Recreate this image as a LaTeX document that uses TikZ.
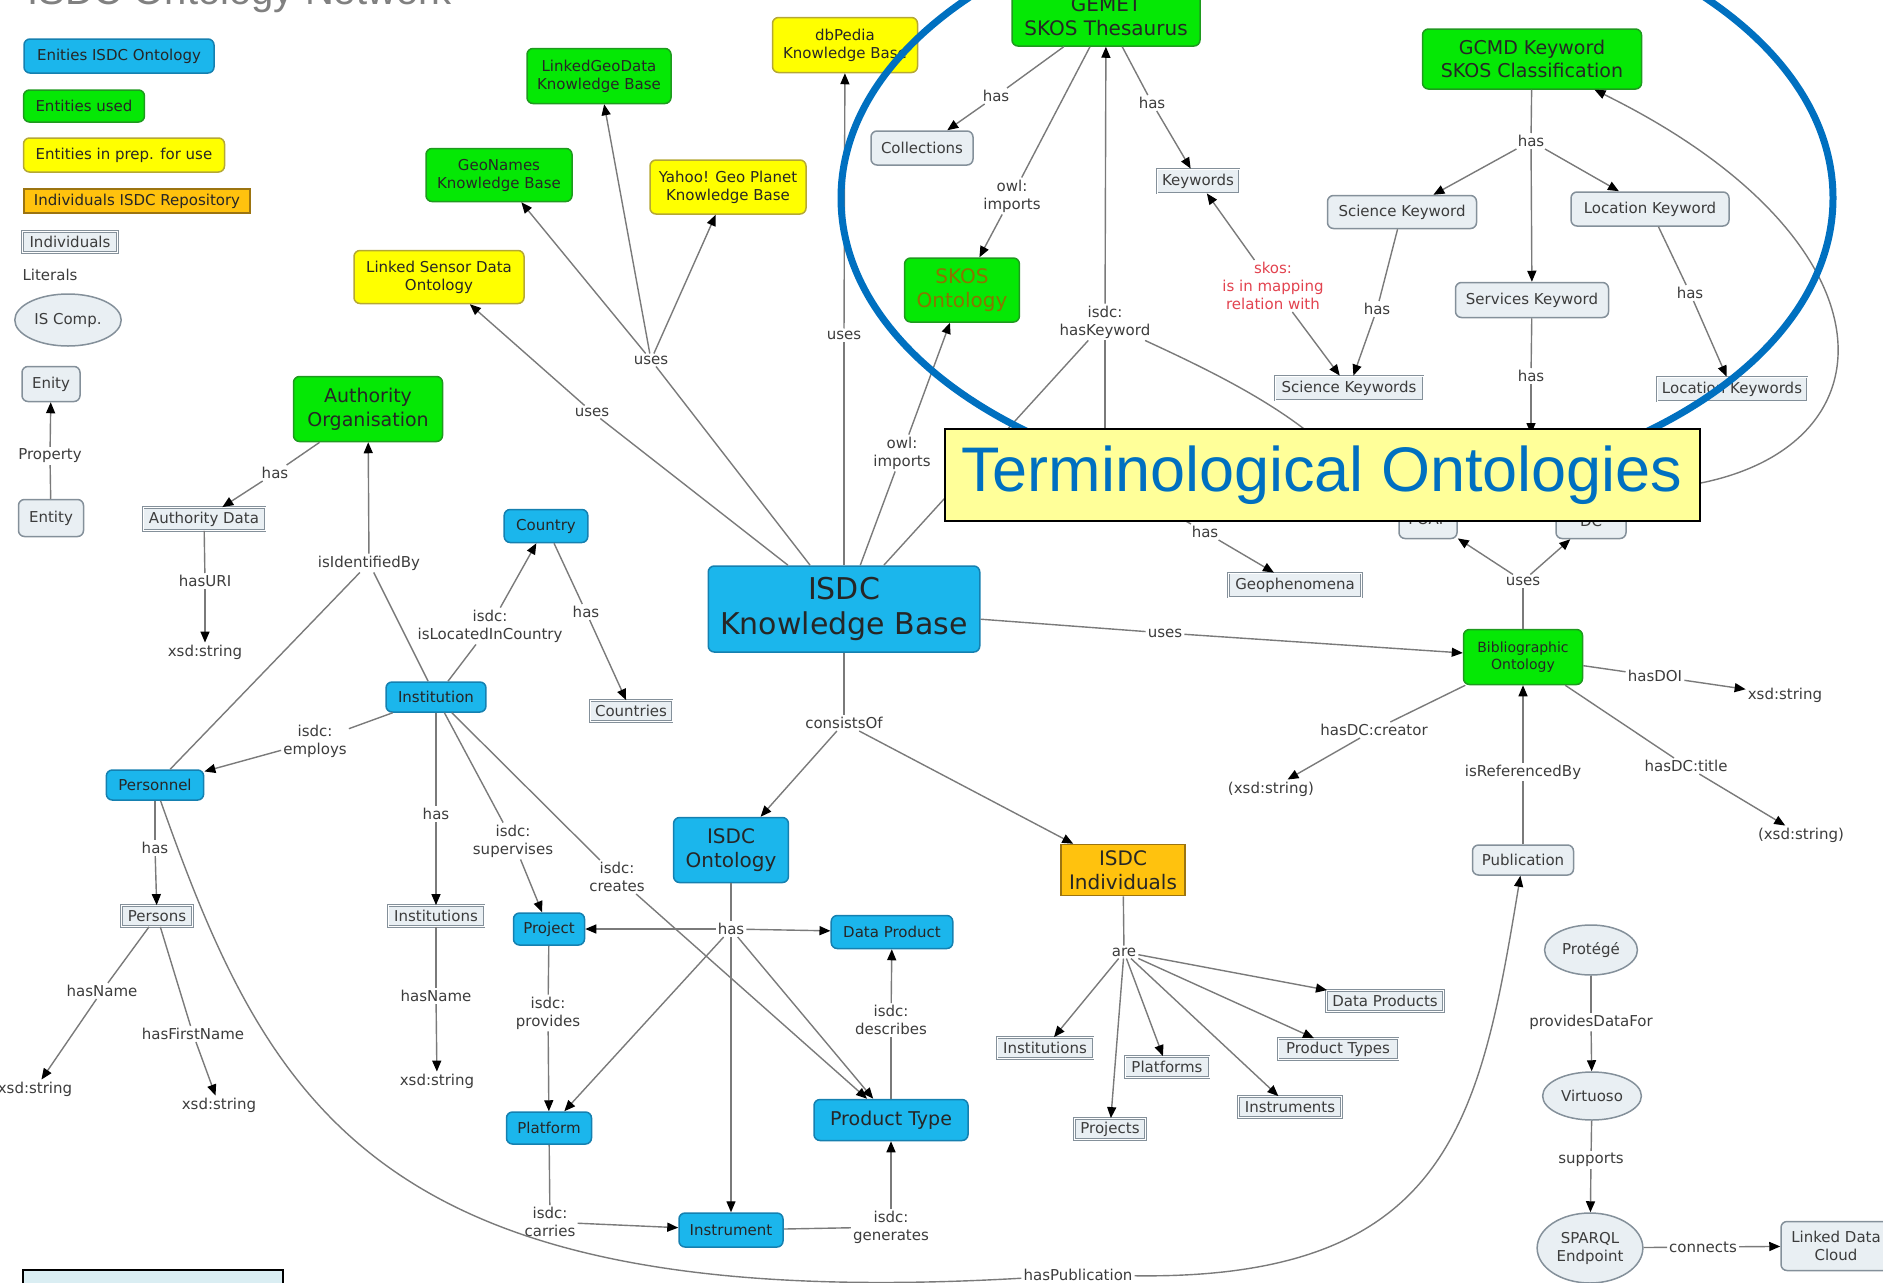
\documentclass[tikz,border=0pt]{standalone}
\usepackage{fontspec}
\setmainfont{DejaVu Sans}
\newfontfamily\calloutfont{Liberation Sans}
\usepackage{xcolor}
\definecolor{isdcBlue}{HTML}{1BB6EC}
\definecolor{isdcBlueDark}{HTML}{1580B0}
\definecolor{usedGreen}{HTML}{05E805}
\definecolor{usedGreenDark}{HTML}{1E9A1E}
\definecolor{prepYellow}{HTML}{FFFF00}
\definecolor{prepYellowDark}{HTML}{B5A834}
\definecolor{repoOrange}{HTML}{FFC20E}
\definecolor{repoOrangeDark}{HTML}{9C7410}
\definecolor{plainFill}{HTML}{E9EFF3}
\definecolor{plainBorder}{HTML}{84909A}
\definecolor{linkGray}{HTML}{7A7A7A}
\definecolor{phraseText}{HTML}{3C3C3C}
\definecolor{mappingRed}{HTML}{E2434F}
\definecolor{skosText}{HTML}{8A7400}
\definecolor{ringBlue}{HTML}{0070C0}
\definecolor{calloutFill}{HTML}{FFFF99}
\definecolor{noteFill}{HTML}{DAEEF3}
\usepackage{tikz}
\usetikzlibrary{shapes,arrows.meta,positioning,calc}
\tikzset{
    mapnode/.style={
        align=center,
        inner xsep=12pt,
        inner ysep=4pt,
        minimum height=30pt,
        line width=1.5pt,
        font=\fontsize{15}{18}\selectfont,
        text=black!85
    },
    isdc/.style={mapnode, rectangle, rounded corners=6pt, draw=isdcBlueDark, fill=isdcBlue},
    used/.style={mapnode, rectangle, rounded corners=6pt, draw=usedGreenDark, fill=usedGreen},
    prep/.style={mapnode, rectangle, rounded corners=6pt, draw=prepYellowDark, fill=prepYellow},
    repo/.style={mapnode, rectangle, draw=repoOrangeDark, fill=repoOrange, inner xsep=8pt},
    concept/.style={
        mapnode, rectangle, rounded corners=6pt,
        draw=plainBorder, fill=plainFill,
        inner xsep=9pt, text=phraseText
    },
    instance/.style={
        mapnode, rectangle,
        draw=plainBorder, double=white, double distance=0.8pt,
        fill=plainFill, line width=0.8pt,
        inner xsep=5pt, inner ysep=2pt, minimum height=21pt,
        text=phraseText
    },
    comp/.style={mapnode, ellipse, draw=plainBorder, fill=plainFill, inner xsep=4pt, text=phraseText},
    phrase/.style={
        align=center,
        inner sep=2pt,
        font=\fontsize{15}{18}\selectfont,
        text=phraseText
    },
    big/.style={font=\fontsize{20}{24}\selectfont},
    connector/.style={draw=linkGray, line width=1.4pt},
    arrow/.style={connector, -{Triangle[length=11pt, width=9pt, color=black]}}
}

\begin{document}
\begin{tikzpicture}[x=1pt, y=-1pt]
    \useasboundingbox (0,0) rectangle (1883,1283);
    \clip (0,0) rectangle (1883,1283);

    % Title (cut off by the top edge)
    \node[anchor=base west, inner sep=0pt, font=\calloutfont\fontsize{40}{44}\selectfont, text=black!50] (title) at (27,4) {ISDC Ontology Network};

    % Legend
    \node[isdc, minimum width=190pt, minimum height=34pt] (legIsdc) at (119,56) {Enities ISDC Ontology};
    \node[used, minimum width=119pt, minimum height=32pt] (legUsed) at (84,106) {Entities used};
    \node[prep, minimum width=201pt, minimum height=34pt] (legPrep) at (124,155) {Entities in prep. for use};
    \node[repo, minimum width=226pt, minimum height=24pt, inner ysep=1pt] (legRepo) at (137,201) {Individuals ISDC Repository};
    \node[instance, minimum width=95pt] (legIndiv) at (70,242) {Individuals};
    \node[phrase] (legLit) at (50,275) {Literals};
    \node[comp, minimum width=97pt, minimum height=52pt] (legComp) at (68,320) {IS Comp.};
    \node[concept, minimum width=58pt, minimum height=35pt, inner xsep=5pt] (legEnity) at (51,384) {Enity};
    \node[phrase] (legProp) at (50,456) {Property};
    \node[concept, minimum width=65pt, minimum height=37pt, inner xsep=5pt] (legEntity) at (51,518) {Entity};
    \draw[connector] (legEntity) -- (legProp);
    \draw[arrow] (legProp) -- (legEnity);

    % External knowledge bases
    \node[prep, minimum width=145pt, minimum height=55pt, inner xsep=8pt] (dbpedia) at (845,45) {dbPedia\\Knowledge Base};
    \node[used, minimum width=144pt, minimum height=55pt, inner xsep=8pt] (linkedGeo) at (599,76) {LinkedGeoData\\Knowledge Base};
    \node[used, minimum width=146pt, minimum height=53pt, inner xsep=8pt] (geoNames) at (499,175) {GeoNames\\Knowledge Base};
    \node[prep, minimum width=156pt, minimum height=54pt, inner xsep=8pt] (yahoo) at (728,187) {Yahoo! Geo Planet\\Knowledge Base};
    \node[prep, minimum width=170pt, minimum height=53pt, inner xsep=8pt] (sensor) at (439,277) {Linked Sensor Data\\Ontology};
    \node[phrase] (usesMid) at (651,360) {uses};
    \node[phrase] (usesLeft) at (592,412) {uses};
    \node[phrase] (usesDb) at (844,335) {uses};
    \node[phrase] (kbImports) at (902,453) {owl:\\imports};

    % Central knowledge base
    \node[isdc, minimum width=270pt, minimum height=86pt, font=\fontsize{30}{35}\selectfont] (kb) at (844,609) {ISDC\\Knowledge Base};
    \node[phrase] (consists) at (844,723) {consistsOf};
    \node[isdc, big, minimum width=113pt, minimum height=65pt] (ontology) at (731,850) {ISDC\\Ontology};
    \node[repo, big, minimum width=121pt, minimum height=51pt, inner ysep=2pt] (individuals) at (1123,870) {ISDC\\Individuals};

    % Authority and institutions
    \node[used, font=\fontsize{19}{24}\selectfont, minimum width=149pt, minimum height=65pt] (authOrg) at (368,409) {Authority\\Organisation};
    \node[instance, minimum width=122pt, minimum height=23pt] (authData) at (204,519) {Authority Data};
    \node[phrase] (authHas) at (275,473) {has};
    \node[phrase] (hasURI) at (205,581) {hasURI};
    \node[phrase] (xsdUri) at (205,652) {xsd:string};
    \node[phrase] (isIdentBy) at (369,563) {isIdentifiedBy};
    \node[isdc, minimum width=83pt, minimum height=33pt] (country) at (546,526) {Country};
    \node[instance, minimum width=82pt] (countries) at (631,711) {Countries};
    \node[phrase] (countryHas) at (586,612) {has};
    \node[phrase] (locIn) at (490,626) {isdc:\\isLocatedInCountry};
    \node[isdc, minimum width=99pt] (institution) at (436,697) {Institution};
    \node[isdc, minimum width=95pt] (personnel) at (155,785) {Personnel};
    \node[phrase] (employs) at (315,741) {isdc:\\employs};
    \node[phrase] (persHas) at (155,848) {has};
    \node[instance, minimum width=71pt] (persons) at (157,916) {Persons};
    \node[phrase] (persName) at (102,991) {hasName};
    \node[phrase] (xsdName) at (35,1089) {xsd:string};
    \node[phrase] (persFirst) at (193,1034) {hasFirstName};
    \node[phrase] (xsdFirst) at (219,1105) {xsd:string};
    \node[phrase] (instHas) at (436,814) {has};
    \node[instance, minimum width=96pt] (institutions) at (436,916) {Institutions};
    \node[phrase] (instName) at (436,996) {hasName};
    \node[phrase] (xsdInst) at (437,1081) {xsd:string};
    \node[phrase] (supervises) at (513,841) {isdc:\\supervises};
    \node[phrase] (creates) at (617,877) {isdc:\\creates};

    % ISDC ontology classes
    \node[phrase] (ontoHas) at (731,929) {has};
    \node[isdc, minimum width=71pt, minimum height=32pt, inner xsep=6pt] (project) at (549,929) {Project};
    \node[isdc, minimum width=119pt, minimum height=33pt] (dataProduct) at (892,932) {Data Product};
    \node[phrase] (provides) at (548,1013) {isdc:\\provides};
    \node[isdc, minimum width=85pt, minimum height=32pt, inner xsep=6pt] (platform) at (549,1128) {Platform};
    \node[phrase] (carries) at (550,1222) {isdc:\\carries};
    \node[isdc, minimum width=104pt, minimum height=34pt, inner xsep=6pt] (instrument) at (731,1230) {Instrument};
    \node[phrase] (generates) at (891,1227) {isdc:\\generates};
    \node[isdc, font=\fontsize{19}{22}\selectfont, minimum width=154pt, minimum height=41pt] (productType) at (891,1120) {Product Type};
    \node[phrase] (describes) at (891,1020) {isdc:\\describes};

    % Individuals
    \node[phrase] (are) at (1124,952) {are};
    \node[instance, minimum width=96pt] (indInst) at (1045,1048) {Institutions};
    \node[instance, minimum width=71pt] (indProj) at (1110,1129) {Projects};
    \node[instance, minimum width=84pt] (indPlat) at (1167,1067) {Platforms};
    \node[instance, minimum width=103pt] (indInstr) at (1290,1107) {Instruments};
    \node[instance, minimum width=120pt] (indProdT) at (1338,1049) {Product Types};
    \node[instance, minimum width=117pt] (indData) at (1385,1001) {Data Products};

    % Bibliographic ontology
    \node[phrase] (kbUses) at (1165,633) {uses};
    \node[used, font=\fontsize{14}{17}\selectfont, minimum width=119pt, minimum height=55pt] (biblio) at (1523,657) {Bibliographic\\Ontology};
    \node[phrase] (hasDOI) at (1655,676) {hasDOI};
    \node[phrase] (xsdDOI) at (1785,695) {xsd:string};
    \node[phrase] (creator) at (1374,730) {hasDC:creator};
    \node[phrase] (xsdCreator) at (1271,789) {(xsd:string)};
    \node[phrase] (dcTitle) at (1686,766) {hasDC:title};
    \node[phrase] (xsdTitle) at (1801,835) {(xsd:string)};
    \node[phrase] (refBy) at (1523,772) {isReferencedBy};
    \node[concept, minimum width=101pt, minimum height=30pt] (publication) at (1523,860) {Publication};
    \node[phrase] (biblioUses) at (1523,581) {uses};
    \node[concept, minimum width=58pt, minimum height=39pt, inner xsep=4pt] (foaf) at (1428,519) {FOAF};
    \node[concept, minimum width=70pt, minimum height=35pt] (dc) at (1591,521) {DC};
    \node[phrase] (geoHas) at (1205,532) {has};
    \node[instance, minimum width=133pt, minimum height=24pt] (geophen) at (1295,585) {Geophenomena};
    \node[phrase] (hasPub) at (1078,1275) {hasPublication};

    % Tools
    \node[comp, minimum width=84pt, minimum height=50pt] (protege) at (1591,950) {Protégé};
    \node[phrase] (providesFor) at (1591,1022) {providesDataFor};
    \node[comp, minimum width=87pt, minimum height=48pt] (virtuoso) at (1592,1096) {Virtuoso};
    \node[phrase] (supports) at (1591,1160) {supports};
    \node[comp, minimum width=100pt, minimum height=70pt] (sparql) at (1590,1248) {SPARQL\\Endpoint};
    \node[phrase] (connects) at (1703,1247) {connects};
    \node[concept, minimum width=110pt, minimum height=49pt] (ldc) at (1836,1246) {Linked Data\\Cloud};

    % Terminological ontologies
    \node[used, big, minimum width=188pt, minimum height=60pt] (gemet) at (1106,16) {GEMET\\SKOS Thesaurus};
    \node[concept, minimum width=102pt, minimum height=34pt] (collections) at (922,148) {Collections};
    \node[phrase] (gemetHasA) at (996,96) {has};
    \node[phrase] (gemetImports) at (1012,196) {owl:\\imports};
    \node[used, big, minimum width=111pt, minimum height=64pt, text=skosText] (skos) at (962,290) {SKOS\\Ontology};
    \node[phrase] (gemetHasB) at (1152,103) {has};
    \node[instance, minimum width=81pt, minimum height=24pt] (keywords) at (1198,181) {Keywords};
    \node[phrase, text=mappingRed] (mapping) at (1273,286) {skos:\\is in mapping\\relation with};
    \node[instance, minimum width=148pt, minimum height=24pt] (sciKeywords) at (1349,388) {Science Keywords};
    \node[phrase] (hasKeyword) at (1105,322) {isdc:\\hasKeyword};
    \node[used, font=\fontsize{19}{23}\selectfont, minimum width=219pt, minimum height=60pt] (gcmd) at (1532,59) {GCMD Keyword\\SKOS Classification};
    \node[phrase] (gcmdHas) at (1531,141) {has};
    \node[concept, minimum width=149pt, minimum height=33pt] (sciKeyword) at (1402,212) {Science Keyword};
    \node[concept, minimum width=158pt, minimum height=34pt] (locKeyword) at (1650,209) {Location Keyword};
    \node[concept, minimum width=153pt, minimum height=35pt] (servKeyword) at (1532,300) {Services Keyword};
    \node[phrase] (sciHas) at (1377,309) {has};
    \node[phrase] (locHas) at (1690,293) {has};
    \node[instance, minimum width=150pt, minimum height=24pt] (locKeywords) at (1732,389) {Location Keywords};
    \node[phrase] (servHas) at (1531,376) {has};

    % Ends hidden under the callout
    \coordinate (servEnd) at (1531,434);
    \coordinate (kwDown) at (1105,480);
    \coordinate (kwRight) at (1340,460);
    \coordinate (geoSrc) at (1140,495);
    \coordinate (gcmdSrc) at (1690,485);

    % Connections
    \draw[connector] (authOrg) -- (authHas);
    \draw[arrow] (authHas) -- (authData);
    \draw[connector] (authData) -- (hasURI);
    \draw[arrow] (hasURI) -- (xsdUri);
    \draw[connector] (personnel) -- (isIdentBy);
    \draw[connector] (institution) -- (isIdentBy);
    \draw[arrow] (isIdentBy) -- (authOrg);
    \draw[connector] (institution) -- (locIn);
    \draw[arrow] (locIn) -- (country);
    \draw[connector] (country) -- (countryHas);
    \draw[arrow] (countryHas) -- (countries);
    \draw[connector] (institution) -- (employs);
    \draw[arrow] (employs) -- (personnel);
    \draw[connector] (personnel) -- (persHas);
    \draw[arrow] (persHas) -- (persons);
    \draw[connector] (persons) -- (persName);
    \draw[arrow] (persName) -- (xsdName);
    \draw[connector] (persons) -- (persFirst);
    \draw[arrow] (persFirst) -- (xsdFirst);
    \draw[connector] (institution) -- (instHas);
    \draw[arrow] (instHas) -- (institutions);
    \draw[connector] (institutions) -- (instName);
    \draw[arrow] (instName) -- (xsdInst);
    \draw[connector] (institution) -- (supervises);
    \draw[arrow] (supervises) -- (project);
    \draw[connector] (institution) -- (creates);
    \draw[arrow] (creates) -- (productType);

    \foreach \via in {usesLeft, usesMid, usesDb, kbImports, hasKeyword, consists, kbUses} {
        \draw[connector] (kb) -- (\via);
    }
    \draw[arrow] (usesLeft) -- (sensor);
    \foreach \target in {linkedGeo, geoNames, yahoo} {
        \draw[arrow] (usesMid) -- (\target);
    }
    \draw[arrow] (usesDb) -- (dbpedia);
    \draw[arrow] (kbImports) -- (skos);
    \draw[arrow] (consists) -- (ontology);
    \draw[arrow] (consists) -- (individuals);

    \draw[connector] (ontology) -- (ontoHas);
    \foreach \target in {project, dataProduct, platform, productType, instrument} {
        \draw[arrow] (ontoHas) -- (\target);
    }
    \draw[connector] (project) -- (provides);
    \draw[arrow] (provides) -- (platform);
    \draw[connector] (platform) -- (carries);
    \draw[arrow] (carries) -- (instrument);
    \draw[connector] (instrument) -- (generates);
    \draw[arrow] (generates) -- (productType);
    \draw[connector] (productType) -- (describes);
    \draw[arrow] (describes) -- (dataProduct);

    \draw[connector] (individuals) -- (are);
    \foreach \target in {indInst, indProj, indPlat, indInstr, indProdT, indData} {
        \draw[arrow] (are) -- (\target);
    }

    \draw[arrow] (kbUses) -- (biblio);
    \draw[connector] (biblio) -- (hasDOI);
    \draw[arrow] (hasDOI) -- (xsdDOI);
    \draw[connector] (biblio) -- (creator);
    \draw[arrow] (creator) -- (xsdCreator);
    \draw[connector] (biblio) -- (dcTitle);
    \draw[arrow] (dcTitle) -- (xsdTitle);
    \draw[connector] (publication) -- (refBy);
    \draw[arrow] (refBy) -- (biblio);
    \draw[connector] (biblio) -- (biblioUses);
    \draw[arrow] (biblioUses) -- (foaf);
    \draw[arrow] (biblioUses) -- (dc);
    \draw[connector] (geoSrc) -- (geoHas);
    \draw[arrow] (geoHas) -- (geophen);

    \draw[connector] (personnel) .. controls (270,1110) and (380,1315) .. (hasPub);
    \draw[arrow] (hasPub) .. controls (1450,1280) and (1480,1120) .. (publication);

    \draw[connector] (protege) -- (providesFor);
    \draw[arrow] (providesFor) -- (virtuoso);
    \draw[connector] (virtuoso) -- (supports);
    \draw[arrow] (supports) -- (sparql);
    \draw[connector] (sparql) -- (connects);
    \draw[arrow] (connects) -- (ldc);

    \draw[connector] (gemet) -- (gemetHasA);
    \draw[arrow] (gemetHasA) -- (collections);
    \draw[connector] (gemet) -- (gemetImports);
    \draw[arrow] (gemetImports) -- (skos);
    \draw[connector] (gemet) -- (gemetHasB);
    \draw[arrow] (gemetHasB) -- (keywords);
    \draw[arrow] (mapping) -- (keywords);
    \draw[arrow] (mapping) -- (sciKeywords);
    \draw[arrow] (hasKeyword) -- (gemet);
    \draw[connector] (hasKeyword) -- (kwDown);
    \draw[connector] (hasKeyword) .. controls (1220,375) and (1290,410) .. (kwRight);
    \draw[connector] (gcmd) -- (gcmdHas);
    \foreach \target in {sciKeyword, servKeyword, locKeyword} {
        \draw[arrow] (gcmdHas) -- (\target);
    }
    \draw[connector] (sciKeyword) -- (sciHas);
    \draw[arrow] (sciHas) -- (sciKeywords);
    \draw[connector] (locKeyword) -- (locHas);
    \draw[arrow] (locHas) -- (locKeywords);
    \draw[connector] (servKeyword) -- (servHas);
    \draw[arrow] (servHas) -- (servEnd);
    \draw[arrow] (gcmdSrc) .. controls (1900,450) and (1900,240) .. (gcmd);

    % Highlight ring and callout
    \draw[ringBlue, line width=7pt] (1337,198) ellipse [x radius=496, y radius=299];
    \node[draw=black, line width=2pt, fill=calloutFill, minimum width=755pt, minimum height=92pt, inner sep=0pt,
          font=\calloutfont\fontsize{63}{70}\selectfont, text=ringBlue] (callout) at (1322,475) {Terminological Ontologies};

    % Note box cut off at the bottom
    \node[draw=black, line width=2pt, fill=noteFill, minimum width=260pt, minimum height=40pt, inner sep=0pt, anchor=north west] (noteBox) at (22,1269) {};
\end{tikzpicture}
\end{document}
